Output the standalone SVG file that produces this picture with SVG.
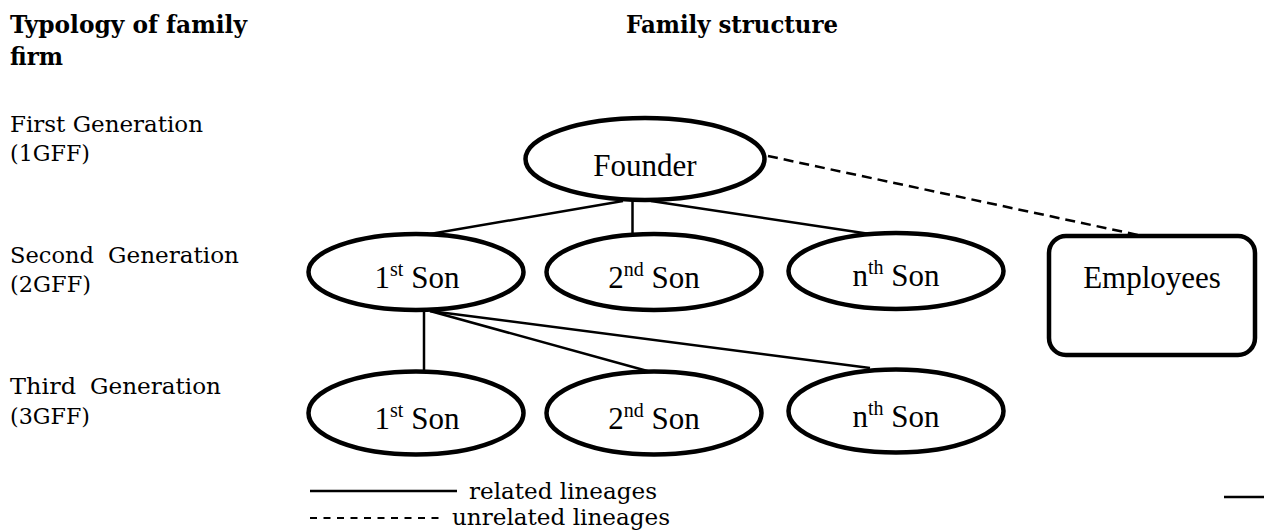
<svg xmlns="http://www.w3.org/2000/svg" width="1264" height="532" viewBox="0 0 1264 532">
  <style>
    .side { font-family: "DejaVu Serif", "Liberation Serif", serif; font-size: 23px; fill: #000; }
    .head { font-family: "DejaVu Serif", "Liberation Serif", serif; font-size: 25px; font-weight: bold; fill: #000; }
    .lbl { font-family: "Liberation Serif", "Times New Roman", serif; font-size: 31px; fill: #000; text-anchor: middle; }
    .sup { font-size: 20px; }
    .node { fill: #fff; stroke: #000; stroke-width: 4.5; }
    .link { stroke: #000; stroke-width: 2.5; fill: none; }
    .dash { stroke: #000; stroke-width: 2.5; fill: none; stroke-dasharray: 10 6; }
    .legdash { stroke: #000; stroke-width: 2; fill: none; stroke-dasharray: 7 6.5; }
  </style>
  <rect width="1264" height="532" fill="#fff"/>

  <!-- column headings -->
  <g id="headings">
    <text class="head" x="10" y="33" textLength="237" lengthAdjust="spacingAndGlyphs">Typology of family</text>
    <text class="head" x="10" y="65" textLength="53" lengthAdjust="spacingAndGlyphs">firm</text>
    <text class="head" x="626" y="33" textLength="212" lengthAdjust="spacingAndGlyphs">Family structure</text>
  </g>

  <!-- generation labels -->
  <g id="generations">
    <text class="side" x="10" y="131.5" textLength="193" lengthAdjust="spacingAndGlyphs">First Generation</text>
    <text class="side" x="10" y="161" textLength="80" lengthAdjust="spacingAndGlyphs">(1GFF)</text>
    <text class="side" x="10" y="263" textLength="84" lengthAdjust="spacingAndGlyphs">Second</text>
    <text class="side" x="108" y="263" textLength="131" lengthAdjust="spacingAndGlyphs">Generation</text>
    <text class="side" x="10" y="292" textLength="81" lengthAdjust="spacingAndGlyphs">(2GFF)</text>
    <text class="side" x="10" y="394" textLength="66" lengthAdjust="spacingAndGlyphs">Third</text>
    <text class="side" x="90" y="394" textLength="131" lengthAdjust="spacingAndGlyphs">Generation</text>
    <text class="side" x="10" y="424" textLength="80" lengthAdjust="spacingAndGlyphs">(3GFF)</text>
  </g>

  <!-- lineage connectors -->
  <g id="connectors">
    <line class="link" x1="623" y1="201" x2="430" y2="234"/>
    <line class="link" x1="632.5" y1="201" x2="632.5" y2="234"/>
    <line class="link" x1="651" y1="201" x2="870" y2="234"/>
    <line class="link" x1="424" y1="311" x2="424" y2="372"/>
    <line class="link" x1="430" y1="311" x2="651" y2="372"/>
    <line class="link" x1="430" y1="311" x2="870" y2="368"/>
    <line class="dash" x1="768" y1="156" x2="1143" y2="236"/>
  </g>

  <g id="founder">
    <ellipse class="node" cx="645" cy="159" rx="119.5" ry="41" stroke-width="5"/>
    <text class="lbl" x="645" y="175.5">Founder</text>
  </g>

  <g id="son1-g2">
    <ellipse class="node" cx="416" cy="272" rx="107.5" ry="38"/>
    <text class="lbl" x="417" y="287.5">1<tspan class="sup" dy="-12">st</tspan><tspan dy="12"> Son</tspan></text>
  </g>
  <g id="son2-g2">
    <ellipse class="node" cx="654" cy="272" rx="107.5" ry="38"/>
    <text class="lbl" x="654" y="287.5">2<tspan class="sup" dy="-12">nd</tspan><tspan dy="12"> Son</tspan></text>
  </g>
  <g id="sonn-g2">
    <ellipse class="node" cx="896" cy="271" rx="107.5" ry="38"/>
    <text class="lbl" x="896" y="286">n<tspan class="sup" dy="-12">th</tspan><tspan dy="12"> Son</tspan></text>
  </g>

  <g id="employees">
    <rect class="node" x="1049" y="236" width="206" height="119" rx="17" stroke-width="4"/>
    <text class="lbl" x="1152" y="288">Employees</text>
  </g>

  <g id="son1-g3">
    <ellipse class="node" cx="416" cy="413" rx="107.5" ry="41.5"/>
    <text class="lbl" x="417" y="428.5">1<tspan class="sup" dy="-12">st</tspan><tspan dy="12"> Son</tspan></text>
  </g>
  <g id="son2-g3">
    <ellipse class="node" cx="654" cy="413" rx="107.5" ry="41.5"/>
    <text class="lbl" x="654" y="428.5">2<tspan class="sup" dy="-12">nd</tspan><tspan dy="12"> Son</tspan></text>
  </g>
  <g id="sonn-g3">
    <ellipse class="node" cx="896" cy="411" rx="107.5" ry="41.5"/>
    <text class="lbl" x="896" y="426.5">n<tspan class="sup" dy="-12">th</tspan><tspan dy="12"> Son</tspan></text>
  </g>

  <!-- legend -->
  <g id="legend">
    <line class="link" x1="310" y1="491" x2="457" y2="491" stroke-width="2"/>
    <text class="side" x="469" y="499" textLength="188" lengthAdjust="spacingAndGlyphs">related lineages</text>
    <line class="legdash" x1="310" y1="518" x2="441" y2="518"/>
    <text class="side" x="452" y="525" textLength="218" lengthAdjust="spacingAndGlyphs">unrelated lineages</text>
    <line class="link" x1="1224" y1="497" x2="1264" y2="497" stroke-width="3"/>
  </g>
</svg>
